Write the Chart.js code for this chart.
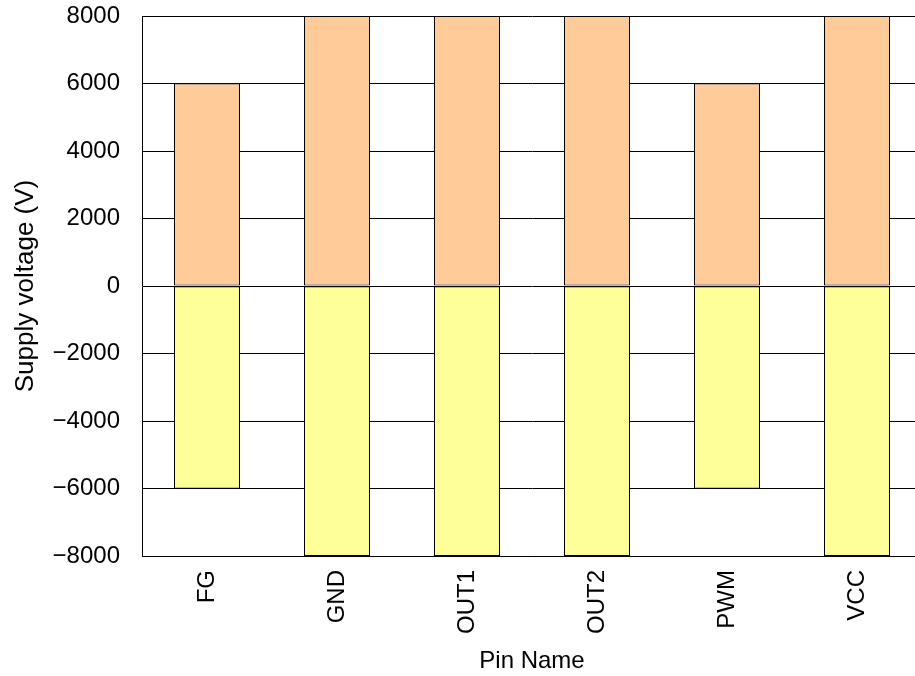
<!DOCTYPE html>
<html>
<head>
<meta charset="utf-8">
<script src="https://cdn.jsdelivr.net/npm/chart.js@4"></script>
<style>
  html, body { margin: 0; padding: 0; background: #fff; overflow: hidden; }
  #wrap { width: 922px; height: 676px; position: relative; }
</style>
</head>
<body>
<div id="wrap"><canvas id="c1"></canvas></div>
<script>
// ── Pin ESD supply voltage chart ──────────────────────────────────────
const pins     = ['FG', 'GND', 'OUT1', 'OUT2', 'PWM', 'VCC'];
const posVolts = [6000, 8000, 8000, 8000, 6000, 8000];
const negVolts = [-6000, -8000, -8000, -8000, -6000, -8000];
const yTicks   = [-8000, -6000, -4000, -2000, 0, 2000, 4000, 6000, 8000];

const C = { orange: '#FFCC99', yellow: '#FFFF99', line: '#000000', text: '#000000' };
const FONT = "'Liberation Sans', Arial, sans-serif";

const barDs = (label, data, color) => ({
  label, data, backgroundColor: color, borderColor: C.line, borderWidth: 1,
  borderSkipped: false, barPercentage: 66 / 130, categoryPercentage: 1.0
});

new Chart(document.getElementById('c1'), {
  type: 'bar',
  data: { labels: pins, datasets: [barDs('+', posVolts, C.orange), barDs('-', negVolts, C.yellow)] },
  options: {
    responsive: true, maintainAspectRatio: false, animation: false,
    layout: { padding: { top: 16, right: 0, bottom: 0, left: 0 } },
    plugins: { legend: { display: false }, tooltip: { enabled: false } },
    scales: {
      x: {
        stacked: true,
        grid: { display: false, drawTicks: false },
        border: { display: true, color: C.line, width: 1 },
        ticks: { color: C.text, font: { family: FONT, size: 24 }, minRotation: 90, maxRotation: 90, padding: 14 },
        title: { display: true, text: 'Pin Name', color: C.text, font: { family: FONT, size: 24 }, padding: { top: 0, bottom: 0 } },
        afterFit: s => { s.height = 120; s.paddingLeft = 0; s.paddingRight = 0; }
      },
      y: {
        stacked: true, min: -8000, max: 8000,
        afterBuildTicks: s => { s.ticks = yTicks.map(v => ({ value: v })); },
        grid: { color: C.line, lineWidth: 1, drawTicks: false },
        border: { display: true, color: C.line, width: 1 },
        ticks: { color: C.text, font: { family: FONT, size: 24 }, padding: 22,
                 callback: v => v < 0 ? '\u2212' + Math.abs(v) : String(v) },
        title: { display: true, text: 'Supply voltage (V)', color: C.text, font: { family: FONT, size: 26 }, padding: { top: 10, bottom: 0 } },
        afterFit: s => { s.width = 142; s.paddingTop = 0; s.paddingBottom = 0; }
      }
    }
  }
});
</script>
</body>
</html>
